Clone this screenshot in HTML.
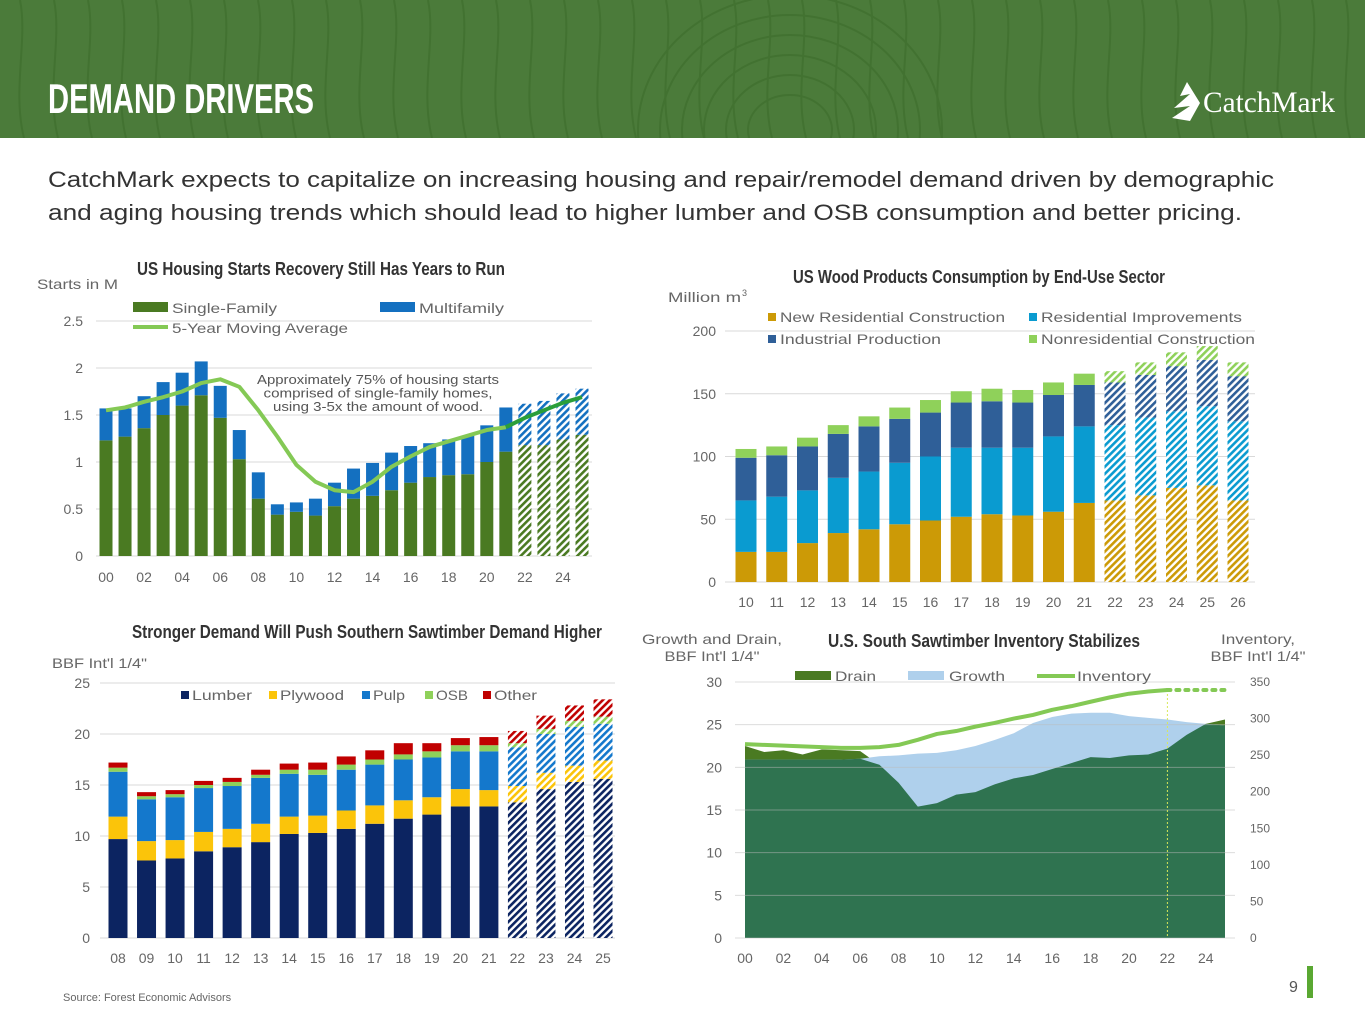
<!DOCTYPE html>
<html><head><meta charset="utf-8"><style>
html,body{margin:0;padding:0;background:#fff;}
svg{display:block;font-family:"Liberation Sans",sans-serif;}
</style></head><body>
<svg id="s" width="1365" height="1024" viewBox="0 0 1365 1024" xmlns="http://www.w3.org/2000/svg">
<defs id="defs"><clipPath id="hdrclip"><rect x="0" y="0" width="1365" height="138"/></clipPath></defs>
<rect x="0" y="0" width="1365" height="138" fill="#4b7b3a"/>
<g id="grain" fill="none" stroke="#41702f" stroke-width="2" opacity="0.8" clip-path="url(#hdrclip)"></g>
<text x="48" y="113" fill="#fff" font-weight="bold" font-size="42" textLength="266" lengthAdjust="spacingAndGlyphs">DEMAND DRIVERS</text>
<g>
<path d="M1187 82 L1180 96 L1190 94 L1174 108 L1190 106 L1172 118 L1190 121 L1200 103 Z" fill="#fff"/>
<text x="1203" y="112" fill="#fff" font-family="Liberation Serif,serif" font-size="30" textLength="132" lengthAdjust="spacingAndGlyphs">CatchMark</text>
</g>
<text x="48" y="187" fill="#333" font-size="22" textLength="1226" lengthAdjust="spacingAndGlyphs">CatchMark expects to capitalize on increasing housing and repair/remodel demand driven by demographic</text>
<text x="48" y="220" fill="#333" font-size="22" textLength="1194" lengthAdjust="spacingAndGlyphs">and aging housing trends which should lead to higher lumber and OSB consumption and better pricing.</text>
<g id="c1"></g>
<g id="c2"></g>
<g id="c3"></g>
<g id="c4"></g>
<text x="63" y="1001" fill="#666" font-size="11">Source:  Forest Economic Advisors</text>
<text x="1289" y="992" fill="#555" font-size="16">9</text>
<rect x="1307" y="966" width="6" height="32" fill="#5aa832"/>
</svg>
<script>
// ---------- DATA ----------
const hsYears=['00','01','02','03','04','05','06','07','08','09','10','11','12','13','14','15','16','17','18','19','20','21','22','23','24','25'];
const hsSingle=[1.23,1.27,1.36,1.50,1.60,1.71,1.47,1.03,0.61,0.44,0.47,0.43,0.53,0.61,0.64,0.70,0.78,0.84,0.86,0.87,1.00,1.11,1.18,1.18,1.24,1.29];
const hsMulti=[0.34,0.30,0.34,0.35,0.35,0.36,0.34,0.31,0.28,0.11,0.10,0.18,0.25,0.32,0.35,0.40,0.39,0.36,0.38,0.41,0.39,0.47,0.44,0.47,0.49,0.49];
const hsAvg=[1.55,1.58,1.64,1.69,1.75,1.84,1.88,1.80,1.55,1.27,0.97,0.79,0.70,0.68,0.79,0.95,1.06,1.16,1.22,1.28,1.34,1.37,1.47,1.55,1.63,1.69];
const hsForecastFrom=22;
const hsYTicks=[0,0.5,1,1.5,2,2.5];

const wcYears=['10','11','12','13','14','15','16','17','18','19','20','21','22','23','24','25','26'];
const wcNewRes=[24,24,31,39,42,46,49,52,54,53,56,63,65,69,75,77,65];
const wcResImp=[41,44,42,44,46,49,51,55,53,54,60,61,60,62,61,63,63];
const wcInd=[34,33,35,35,36,35,35,36,37,36,33,33,34,34,36,37,36];
const wcNonres=[7,7,7,7,8,9,10,9,10,10,10,9,9,10,11,11,11];
const wcForecastFrom=12;
const wcYTicks=[0,50,100,150,200];

const sdYears=['08','09','10','11','12','13','14','15','16','17','18','19','20','21','22','23','24','25'];
const sdLumber=[9.7,7.6,7.8,8.5,8.9,9.4,10.2,10.3,10.7,11.2,11.7,12.1,12.9,12.9,13.3,14.6,15.3,15.6];
const sdPlywood=[2.2,1.9,1.8,1.9,1.8,1.8,1.7,1.7,1.8,1.8,1.8,1.7,1.7,1.6,1.6,1.6,1.6,1.8];
const sdPulp=[4.4,4.1,4.2,4.3,4.2,4.5,4.2,4.0,4.0,4.0,4.0,3.9,3.7,3.8,3.8,3.8,3.8,3.6];
const sdOsb=[0.4,0.3,0.3,0.3,0.4,0.3,0.4,0.5,0.5,0.5,0.5,0.6,0.6,0.6,0.4,0.5,0.6,0.7];
const sdOther=[0.5,0.4,0.4,0.4,0.4,0.5,0.6,0.7,0.8,0.9,1.1,0.8,0.7,0.8,1.2,1.3,1.5,1.7];
const sdForecastFrom=14;
const sdYTicks=[0,5,10,15,20,25];

const invYears=['00','01','02','03','04','05','06','07','08','09','10','11','12','13','14','15','16','17','18','19','20','21','22','23','24','25'];
const invDrain=[22.5,21.8,22.0,21.5,22.1,22.0,21.9,20.3,18.2,15.4,15.8,16.8,17.1,18.0,18.7,19.1,19.8,20.5,21.2,21.1,21.4,21.5,22.2,23.8,25.1,25.6];
const invGrowth=[20.9,20.9,20.9,20.9,20.9,20.9,21.0,21.3,21.4,21.6,21.7,22.0,22.5,23.2,24.0,25.2,25.9,26.3,26.4,26.4,26.0,25.8,25.6,25.3,25.1,24.9];
const invStock=[265,264,263,262,261,260,260,261,264,271,279,283,289,294,300,305,312,317,323,329,334,337,339,339,339,339];
const invForecastFrom=22;
const invLeftTicks=[0,5,10,15,20,25,30];
const invRightTicks=[0,50,100,150,200,250,300,350];
const invXLabels=['00','02','04','06','08','10','12','14','16','18','20','22','24'];

// ---------- HELPERS ----------
const NS='http://www.w3.org/2000/svg';
function mk(parent,tag,attrs,txt){const e=document.createElementNS(NS,tag);for(const k in attrs)e.setAttribute(k,attrs[k]);if(txt!==undefined)e.textContent=txt;parent.appendChild(e);return e;}
const defs=document.getElementById('defs');
const patIds={};
function hatch(color){if(patIds[color])return patIds[color];const id='h'+Object.keys(patIds).length;const p=mk(defs,'pattern',{id:id,width:5,height:5,patternUnits:'userSpaceOnUse',patternTransform:'rotate(45)'});mk(p,'rect',{x:0,y:0,width:5,height:5,fill:'#fff'});mk(p,'rect',{x:0,y:0,width:2.6,height:5,fill:color});patIds[color]='url(#'+id+')';return patIds[color];}
const LBL='#666';
function lt(g,x,y,s,w){return mk(g,'text',{x:x,y:y,'font-size':14,fill:LBL,textLength:w,lengthAdjust:'spacingAndGlyphs'},s);}

// header grain
(function(){const g=document.getElementById('grain');
for(let i=0;i<40;i++){const x=20+i*34;const d='M'+x+' 0 C'+(x+8)+' 40 '+(x-8)+' 90 '+(x+4)+' 138';const p=mk(g,'path',{d:d});}
for(let r=1;r<7;r++){const e=mk(g,'ellipse',{cx:790,cy:130,rx:20+r*22,ry:15+r*20});}
})();

// ---------- CHART 1 ----------
(function(){const g=document.getElementById('c1');
const X=i=>106+i*19.04, Y=v=>556-94*v, BW=13;
mk(g,'text',{x:321,y:275,'text-anchor':'middle','font-weight':'bold','font-size':18,fill:'#333',textLength:368,lengthAdjust:'spacingAndGlyphs'},'US Housing Starts Recovery Still Has Years to Run');
lt(g,37,289,'Starts in M',81);
hsYTicks.forEach(t=>{const l=mk(g,'line',{x1:96,x2:592,y1:Y(t),y2:Y(t),stroke:'#d9d9d9'});
mk(g,'text',{x:83,y:Y(t)+5,'text-anchor':'end','font-size':14,fill:LBL},String(t));});
hsYears.forEach((y,i)=>{const f=i>=hsForecastFrom;
const a=mk(g,'rect',{x:X(i)-BW/2,y:Y(hsSingle[i]),width:BW,height:Y(0)-Y(hsSingle[i]),fill:f?hatch('#4a7a22'):'#4a7a22'});

const b=mk(g,'rect',{x:X(i)-BW/2,y:Y(hsSingle[i]+hsMulti[i]),width:BW,height:Y(hsSingle[i])-Y(hsSingle[i]+hsMulti[i]),fill:f?hatch('#1470c0'):'#1470c0'});

if(i%2===0)mk(g,'text',{x:X(i),y:582,'text-anchor':'middle','font-size':14,fill:LBL},y);});
let d1='',d2='';hsAvg.forEach((v,i)=>{if(i<=21)d1+=(i?'L':'M')+X(i)+' '+Y(v);if(i>=21)d2+=(i>21?'L':'M')+X(i)+' '+Y(v);});
const l1=mk(g,'path',{d:d1,fill:'none',stroke:'#84c955','stroke-width':4,'stroke-linejoin':'round'});
const l2=mk(g,'path',{d:d2,fill:'none',stroke:'#2a9e3a','stroke-width':4});
[['Approximately 75% of housing starts',242],['comprised of single-family homes,',229],['using 3-5x the amount of wood.',210]].forEach((t,k)=>mk(g,'text',{x:378,y:384+k*13.5,'text-anchor':'middle','font-size':13,fill:'#555',textLength:t[1],lengthAdjust:'spacingAndGlyphs'},t[0]));
const lg=mk(g,'g',{});
mk(lg,'rect',{x:133,y:302,width:35,height:10,fill:'#4a7a22'});lt(lg,172,313,'Single-Family',105);
mk(lg,'rect',{x:380,y:302,width:35,height:10,fill:'#1470c0'});lt(lg,419,313,'Multifamily',85);
mk(lg,'line',{x1:133,x2:168,y1:327,y2:327,stroke:'#84c955','stroke-width':4});lt(lg,172,333,'5-Year Moving Average',176);
})();

// ---------- CHART 2 ----------
(function(){const g=document.getElementById('c2');
const X=i=>746+i*30.75, Y=v=>582-1.255*v, BW=21;
mk(g,'text',{x:979,y:283,'text-anchor':'middle','font-weight':'bold','font-size':18,fill:'#333',textLength:372,lengthAdjust:'spacingAndGlyphs'},'US Wood Products Consumption by End-Use Sector');
lt(g,668,302,'Million m',73);mk(g,'text',{x:742,y:296,'font-size':9,fill:LBL},'3');
wcYTicks.forEach(t=>{const l=mk(g,'line',{x1:725,x2:1255,y1:Y(t),y2:Y(t),stroke:'#d9d9d9'});
mk(g,'text',{x:716,y:Y(t)+5,'text-anchor':'end','font-size':14,fill:LBL},String(t));});
const ser=[[wcNewRes,'#cc9a06','bar-new-residential'],[wcResImp,'#0a9bd0','bar-residential-improvements'],[wcInd,'#2f5f98','bar-industrial-production'],[wcNonres,'#8fd15a','bar-nonresidential']];
wcYears.forEach((y,i)=>{let base=0;const f=i>=wcForecastFrom;
ser.forEach(s=>{const v=s[0][i];const r=mk(g,'rect',{x:X(i)-BW/2,y:Y(base+v),width:BW,height:Y(base)-Y(base+v),fill:f?hatch(s[1]):s[1]});
base+=v;});
mk(g,'text',{x:X(i),y:607,'text-anchor':'middle','font-size':14,fill:LBL},y);});
const lg=mk(g,'g',{});
[['New Residential Construction',768,322,'#cc9a06',225],['Residential Improvements',1029,322,'#0a9bd0',201],['Industrial Production',768,344,'#2f5f98',161],['Nonresidential Construction',1029,344,'#8fd15a',214]].forEach(e=>{mk(lg,'rect',{x:e[1],y:e[2]-9,width:8,height:8,fill:e[3]});lt(lg,e[1]+12,e[2],e[0],e[4]);});
})();

// ---------- CHART 3 ----------
(function(){const g=document.getElementById('c3');
const X=i=>118+i*28.53, Y=v=>938-10.2*v, BW=19;
mk(g,'text',{x:367,y:638,'text-anchor':'middle','font-weight':'bold','font-size':18,fill:'#333',textLength:470,lengthAdjust:'spacingAndGlyphs'},'Stronger Demand Will Push Southern Sawtimber Demand Higher');
lt(g,52,668,"BBF Int'l 1/4\"",95);
sdYTicks.forEach(t=>{const l=mk(g,'line',{x1:100,x2:615,y1:Y(t),y2:Y(t),stroke:'#d9d9d9'});
mk(g,'text',{x:90,y:Y(t)+5,'text-anchor':'end','font-size':14,fill:LBL},String(t));});
const ser=[[sdLumber,'#0c2461','bar-lumber'],[sdPlywood,'#fbc40a','bar-plywood'],[sdPulp,'#1478cc','bar-pulp'],[sdOsb,'#8fd15a','bar-osb'],[sdOther,'#c00000','bar-other']];
sdYears.forEach((y,i)=>{let base=0;const f=i>=sdForecastFrom;
ser.forEach(s=>{const v=s[0][i];const r=mk(g,'rect',{x:X(i)-BW/2,y:Y(base+v),width:BW,height:Y(base)-Y(base+v),fill:f?hatch(s[1]):s[1]});
base+=v;});
mk(g,'text',{x:X(i),y:963,'text-anchor':'middle','font-size':14,fill:LBL},y);});
const lg=mk(g,'g',{});
[['Lumber',181,'#0c2461',60],['Plywood',269,'#fbc40a',64],['Pulp',362,'#1478cc',32],['OSB',425,'#8fd15a',32],['Other',483,'#c00000',43]].forEach(e=>{mk(lg,'rect',{x:e[1],y:691,width:8,height:8,fill:e[2]});lt(lg,e[1]+11,700,e[0],e[3]);});
})();

// ---------- CHART 4 ----------
(function(){const g=document.getElementById('c4');
const X=i=>745+i*19.2, YL=v=>938-8.533*v, YR=v=>938-0.7314*v;
mk(g,'text',{x:984,y:647,'text-anchor':'middle','font-weight':'bold','font-size':18,fill:'#333',textLength:312,lengthAdjust:'spacingAndGlyphs'},'U.S. South Sawtimber Inventory  Stabilizes');
mk(g,'text',{x:712,y:644,'text-anchor':'middle','font-size':14,fill:LBL,textLength:140,lengthAdjust:'spacingAndGlyphs'},'Growth and Drain,');
mk(g,'text',{x:712,y:661,'text-anchor':'middle','font-size':14,fill:LBL,textLength:95,lengthAdjust:'spacingAndGlyphs'},"BBF Int'l 1/4\"");
mk(g,'text',{x:1258,y:644,'text-anchor':'middle','font-size':14,fill:LBL,textLength:74,lengthAdjust:'spacingAndGlyphs'},'Inventory,');
mk(g,'text',{x:1258,y:661,'text-anchor':'middle','font-size':14,fill:LBL,textLength:95,lengthAdjust:'spacingAndGlyphs'},"BBF Int'l 1/4\"");
const n=invYears.length,last=n-1;
function area(vals){let d='M'+X(0)+' '+YL(0);vals.forEach((v,i)=>d+='L'+X(i)+' '+YL(v));return d+'L'+X(last)+' '+YL(0)+'Z';}
const a1=mk(g,'path',{d:area(invDrain),fill:'#4a7a22'});
const a2=mk(g,'path',{d:area(invGrowth),fill:'#afd0ec'});
const a3=mk(g,'path',{d:area(invDrain.map((v,i)=>Math.min(v,invGrowth[i]))),fill:'#2f7350'});
invLeftTicks.forEach(t=>{const l=mk(g,'line',{x1:735,x2:1235,y1:YL(t),y2:YL(t),stroke:'#bbb','stroke-opacity':0.5});
mk(g,'text',{x:722,y:YL(t)+5,'text-anchor':'end','font-size':14,fill:LBL},String(t));});
invRightTicks.forEach(t=>mk(g,'text',{x:1250,y:YR(t)+4,'font-size':12,fill:LBL},String(t)));
invXLabels.forEach((t,k)=>mk(g,'text',{x:X(k*2),y:963,'text-anchor':'middle','font-size':14,fill:LBL},t));
const vl=mk(g,'line',{x1:X(invForecastFrom),x2:X(invForecastFrom),y1:YR(invStock[invForecastFrom]),y2:938,stroke:'#d8e85a','stroke-width':1,'stroke-dasharray':'2 2'});

let d1='',d2='';invStock.forEach((v,i)=>{if(i<=invForecastFrom)d1+=(i?'L':'M')+X(i)+' '+YR(v);if(i>=invForecastFrom)d2+=(i>invForecastFrom?'L':'M')+X(i)+' '+YR(v);});
const il=mk(g,'path',{d:d1,fill:'none',stroke:'#84c955','stroke-width':4,'stroke-linejoin':'round'});
const il2=mk(g,'path',{d:d2,fill:'none',stroke:'#84c955','stroke-width':4,'stroke-dasharray':'3 6','stroke-linecap':'round'});
const lg=mk(g,'g',{});
mk(lg,'rect',{x:795,y:671,width:36,height:9,fill:'#4a7a22'});lt(lg,835,681,'Drain',41);
mk(lg,'rect',{x:908,y:671,width:36,height:9,fill:'#afd0ec'});lt(lg,949,681,'Growth',56);
mk(lg,'line',{x1:1037,x2:1075,y1:676,y2:676,stroke:'#84c955','stroke-width':4});lt(lg,1077,681,'Inventory',74);
})();
</script>
</body></html>
